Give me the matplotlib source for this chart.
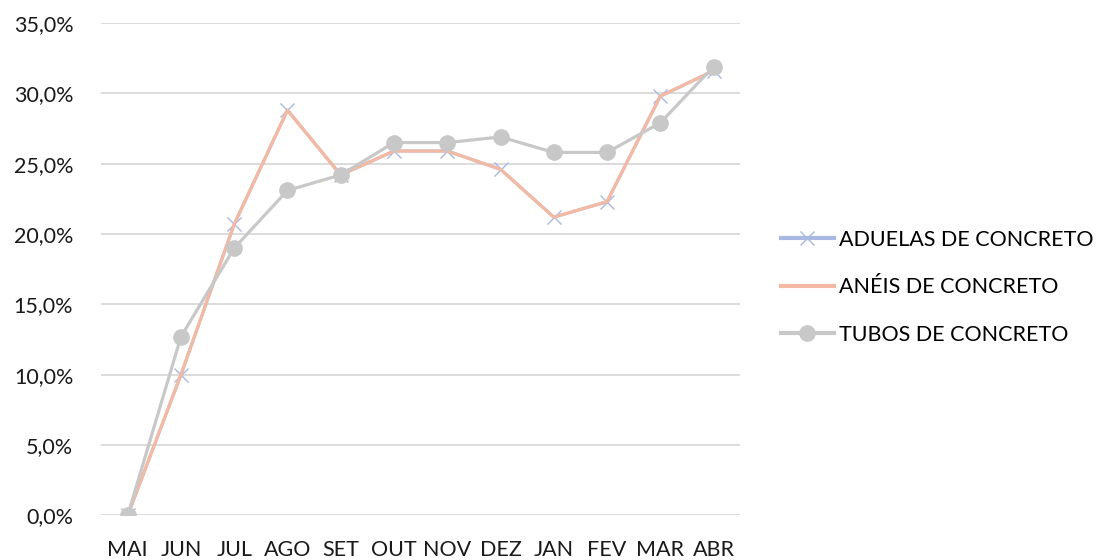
import matplotlib
matplotlib.use('Agg')
import matplotlib.pyplot as plt
from matplotlib.ticker import FuncFormatter, MultipleLocator

meses = ['MAI', 'JUN', 'JUL', 'AGO', 'SET', 'OUT', 'NOV', 'DEZ', 'JAN', 'FEV', 'MAR', 'ABR']
aduelas = [0.0, 10.0, 20.7, 28.8, 24.2, 25.9, 25.9, 24.6, 21.2, 22.3, 29.8, 31.6]
aneis = [0.0, 10.0, 20.7, 28.8, 24.2, 25.9, 25.9, 24.6, 21.2, 22.3, 29.8, 31.6]
tubos = [0.0, 12.7, 19.0, 23.1, 24.2, 26.5, 26.5, 26.9, 25.8, 25.8, 27.9, 31.9]

plt.rcParams['font.family'] = ['Lato', 'DejaVu Sans']

fig = plt.figure(figsize=(11.02, 5.60), dpi=100)
ax = fig.add_axes([0.0917, 0.0795, 0.58, 0.8795])

x = list(range(len(meses)))
ax.plot(x, aduelas, color='#a9b8e2', linewidth=2.2, marker='x', markersize=10,
        markeredgewidth=1.0, label='ADUELAS DE CONCRETO', zorder=3)
ax.plot(x, aneis, color='#f4b9a3', linewidth=2.3, label='ANÉIS DE CONCRETO', zorder=4)
ax.plot(x, tubos, color='#c8c8c8', linewidth=2.3, marker='o', markersize=11,
        label='TUBOS DE CONCRETO', zorder=5)

ax.set_xlim(-0.5, len(meses) - 0.5)
ax.set_ylim(0, 35)
ax.yaxis.set_major_locator(MultipleLocator(5))
ax.yaxis.set_major_formatter(FuncFormatter(lambda v, p: f'{v:.1f}%'.replace('.', ',')))
ax.set_xticks(x)
ax.set_xticklabels(meses)
ax.grid(axis='y', color='#d9d9d9', linewidth=1.3, zorder=0)
ax.set_axisbelow(True)
for s in ax.spines.values():
    s.set_visible(False)
ax.tick_params(axis='y', length=0, pad=20, labelsize=15.5, labelcolor='#1a1a1a')
ax.tick_params(axis='x', length=0, pad=18, labelsize=15.5, labelcolor='#1a1a1a')

fig.legend(loc='center left', bbox_to_anchor=(0.691, 0.487), frameon=False,
           fontsize=15.5, handlelength=2.45, handletextpad=0.27, labelspacing=1.28)
for ln in fig.legends[0].get_lines():
    ln.set_linewidth(3)

fig.savefig('out.png', dpi=100)
